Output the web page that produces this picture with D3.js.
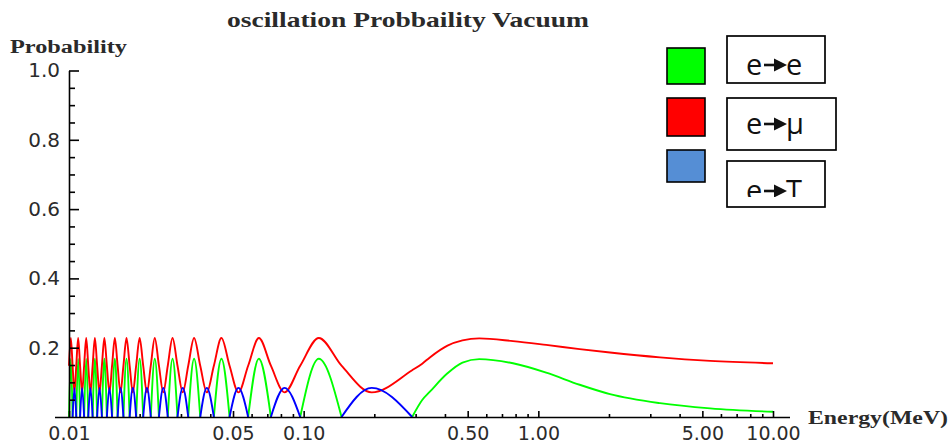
<!DOCTYPE html>
<html>
<head>
<meta charset="utf-8">
<script src="https://cdn.jsdelivr.net/npm/d3@7"></script>
<style>
  body { margin: 0; background: #fff; }
  .axis .tick text { font-family: "DejaVu Sans", sans-serif; font-size: 19px; fill: #2b2b2b; }
  .axis path, .axis line { stroke: #000; stroke-width: 1.6; }
  .curve { fill: none; stroke-width: 1.9; stroke-linejoin: round; }
</style>
</head>
<body>
<div id="chart"></div>
<script>
// energies (MeV) where the e->e and e->tau arches touch zero
var zeroEnergy = [0.29, 0.145, 0.09667, 0.0725, 0.058, 0.04833, 0.04143, 0.03625, 0.03222, 0.029,
  0.02636, 0.02417, 0.02231, 0.02071, 0.01933, 0.01813, 0.01706, 0.01611, 0.01526, 0.0145,
  0.01381, 0.01318, 0.01261, 0.01208, 0.0116, 0.01115, 0.01074, 0.01036, 0.01];
// energy of each arch top (arch i sits between zeroEnergy[i+1] and zeroEnergy[i])
var archTopEnergy = [0.195, 0.116, 0.08286, 0.06444, 0.05273, 0.04462, 0.03867, 0.03412, 0.03053, 0.02762,
  0.02522, 0.0232, 0.02148, 0.02, 0.01871, 0.01758, 0.01657, 0.01568, 0.01487, 0.01415,
  0.01349, 0.01289, 0.01234, 0.01184, 0.01137, 0.01094, 0.01055, 0.01018];

// heights
var greenArchTop = 0.168;   // e -> e
var blueArchTop = 0.084;    // e -> tau
var redPeak = 0.228, redTrough = 0.071, redCross = 0.148;  // e -> mu

// the slow part on the right (E >= 0.29 MeV)
var tailEnergy = [0.29, 0.32, 0.345, 0.41, 0.475, 0.56, 0.78, 1.08, 1.5, 2.02, 3.3, 5.4, 10];
var greenTail  = [0, 0.049, 0.073, 0.126, 0.157, 0.167, 0.155, 0.128, 0.093, 0.066, 0.040, 0.025, 0.015];
var redTail    = [0.135, 0.154, 0.172, 0.206, 0.221, 0.227, 0.219, 0.208, 0.196, 0.186, 0.172, 0.162, 0.155];

// axes
var xMajor = [0.01, 0.05, 0.1, 0.5, 1, 5, 10];
var xMinor = [0.02, 0.03, 0.04, 0.06, 0.07, 0.08, 0.09, 0.2, 0.3, 0.4, 0.6, 0.7, 0.8, 0.9, 2, 3, 4, 6, 7, 8, 9];
var yMajor = [0.2, 0.4, 0.6, 0.8, 1.0];
var yMinor = [0.05, 0.1, 0.15, 0.25, 0.3, 0.35, 0.45, 0.5, 0.55, 0.65, 0.7, 0.75, 0.85, 0.9, 0.95];

// legend
var legendFrom = "e";
var legendTo = ["e", "μ", "Τ"];
var seriesColor = ["#00ff00", "#ff0000", "#0000ff"];
var swatchColor = ["#00ff00", "#ff0000", "#558ed5"];

var width = 952, height = 448;

var svg = d3.select("#chart")
  .append("svg")
    .attr("width", width)
    .attr("height", height)
    .style("background", "#fff");

var x = d3.scaleLog()
    .domain([0.01, 10])
    .range([69, 773]);
var y = d3.scaleLinear()
    .domain([0, 1])
    .range([417, 70.5]);

/*********************
 * CURVES
 *********************/
var line = d3.line()
    .x(function (d) { return x(d[0]); })
    .y(function (d) { return y(d[1]); })
    .curve(d3.curveMonotoneX);

// green / blue arches alternate between the zeros
var greenArches = [], blueArches = [];
archTopEnergy.forEach(function (e, i) {
  var top = i % 2 ? greenArchTop : blueArchTop;
  var arch = [[zeroEnergy[i + 1], 0], [e, top], [zeroEnergy[i], 0]];
  if (i % 2) greenArches.push(arch); else blueArches.push(arch);
});
greenArches.push(tailEnergy.map(function (e, i) { return [e, greenTail[i]]; }));

// red: crossing level at each zero, peak / trough at each arch top
var redPoints = [];
for (var i = zeroEnergy.length - 1; i >= 1; i--) {
  redPoints.push([zeroEnergy[i], redCross]);
  redPoints.push([archTopEnergy[i - 1], (i - 1) % 2 ? redPeak : redTrough]);
}
tailEnergy.forEach(function (e, i) { redPoints.push([e, redTail[i]]); });

var curves = svg.append("g");
curves.selectAll(".green")
  .data(greenArches)
  .enter().append("path")
    .attr("class", "curve green")
    .attr("d", line)
    .style("stroke", seriesColor[0]);
curves.append("path")
    .datum(redPoints)
    .attr("class", "curve red")
    .attr("d", line)
    .style("stroke", seriesColor[1]);
curves.selectAll(".blue")
  .data(blueArches)
  .enter().append("path")
    .attr("class", "curve blue")
    .attr("d", line)
    .style("stroke", seriesColor[2]);

/*********************
 * AXES
 *********************/
// x axis line runs a bit past the data on both sides
svg.append("line")
    .attr("x1", x(0.01) - 14).attr("x2", x(10) + 17)
    .attr("y1", y(0) + 0.5).attr("y2", y(0) + 0.5)
    .style("stroke", "#000").style("stroke-width", 1.6);

svg.append("g")
    .attr("class", "axis")
    .attr("transform", "translate(0," + y(0) + ")")
    .call(d3.axisBottom(x).tickValues(xMinor).tickSize(-3).tickFormat(""))
    .call(function (g) { g.select(".domain").remove(); });
svg.append("g")
    .attr("class", "axis")
    .attr("transform", "translate(0," + y(0) + ")")
    .call(d3.axisBottom(x).tickValues(xMajor).tickSize(-6).tickPadding(10).tickFormat(d3.format(".2f")))
    .call(function (g) { g.select(".domain").remove(); });

svg.append("g")
    .attr("class", "axis")
    .attr("transform", "translate(" + x(0.01) + ",0)")
    .call(d3.axisLeft(y).tickValues(yMinor).tickSize(-6).tickFormat(""))
    .call(function (g) { g.select(".domain").remove(); });
svg.append("g")
    .attr("class", "axis")
    .attr("transform", "translate(" + x(0.01) + ",0)")
    .call(d3.axisLeft(y).tickValues(yMajor).tickSizeInner(-10).tickSizeOuter(0)
      .tickPadding(9).tickFormat(d3.format(".1f")))
    .selectAll(".tick text").style("font-size", "20px");

/*********************
 * TEXT
 *********************/
svg.append("text")
    .attr("x", 227).attr("y", 27)
    .attr("textLength", 362).attr("lengthAdjust", "spacingAndGlyphs")
    .style("font-family", "'Liberation Serif', serif")
    .style("font-weight", "bold").style("font-size", "21px").style("fill", "#2a2a2a")
    .text("oscillation Probbaility Vacuum");

svg.append("text")
    .attr("x", 10).attr("y", 53)
    .attr("textLength", 117).attr("lengthAdjust", "spacingAndGlyphs")
    .style("font-family", "'Liberation Serif', serif")
    .style("font-weight", "bold").style("font-size", "18px").style("fill", "#2a2a2a")
    .text("Probability");

svg.append("text")
    .attr("x", 808).attr("y", 424)
    .attr("textLength", 140).attr("lengthAdjust", "spacingAndGlyphs")
    .style("font-family", "'Liberation Serif', serif")
    .style("font-weight", "bold").style("font-size", "18px").style("fill", "#2a2a2a")
    .text("Energy(MeV)");

/*********************
 * LEGEND
 *********************/
var swatchLayout = [{ y: 48, h: 36 }, { y: 98, h: 38 }, { y: 150, h: 32 }];
var boxLayout = [
  { y: 36, w: 98, h: 47, base: 75 },
  { y: 98, w: 109, h: 52, base: 134 },
  { y: 161, w: 98, h: 46, base: 201 }
];

svg.append("defs").append("clipPath")
    .attr("id", "clip3")
  .append("rect")
    .attr("x", 727).attr("y", 161).attr("width", 98).attr("height", 36);

legendTo.forEach(function (to, i) {
  var s = swatchLayout[i], b = boxLayout[i];
  svg.append("rect")
      .attr("x", 667).attr("y", s.y).attr("width", 38).attr("height", s.h)
      .style("fill", swatchColor[i]).style("stroke", "#000").style("stroke-width", 1.6);
  svg.append("rect")
      .attr("x", 727).attr("y", b.y).attr("width", b.w).attr("height", b.h)
      .style("fill", "#fff").style("stroke", "#000").style("stroke-width", 1.7);

  var g = svg.append("g");
  if (i === 2) g.attr("clip-path", "url(#clip3)");
  g.append("text")
      .attr("x", 746).attr("y", b.base)
      .style("font-family", "'Open Sans', sans-serif").style("font-size", "29px").style("fill", "#111")
      .text(legendFrom);
  g.append("line")
      .attr("x1", 764).attr("x2", 776)
      .attr("y1", b.base - 10).attr("y2", b.base - 10)
      .style("stroke", "#111").style("stroke-width", 2.6);
  g.append("path")
      .attr("d", "M774," + (b.base - 16.5) + "L787," + (b.base - 10) + "L774," + (b.base - 3.5) + "Z")
      .style("fill", "#111");
  g.append("text")
      .attr("x", 786).attr("y", b.base)
      .style("font-family", "'Open Sans', sans-serif").style("font-size", "29px").style("fill", "#111")
      .text(to);
});
</script>
</body>
</html>
